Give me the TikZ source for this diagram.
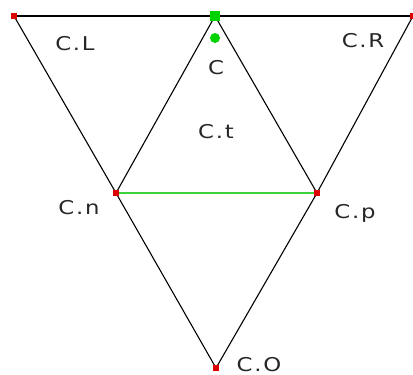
\documentclass[tikz,border=0pt]{standalone}
\usepackage{fontspec}
\setmainfont{DejaVu Sans}[FakeStretch=1.2,LetterSpace=9]
\definecolor{ptred}{RGB}{220,0,0}
\definecolor{ptgreen}{RGB}{0,210,0}
\definecolor{lgreen}{RGB}{60,210,60}
\begin{document}
\begin{tikzpicture}[x=1pt,y=-1pt,
  pt/.style={fill=ptred,draw=none,minimum size=6pt,inner sep=0pt,rectangle},
  lbl/.style={font=\fontsize{19}{21}\selectfont,text=black!85,inner sep=0pt,text height=13.5pt,text depth=0pt},
  edge/.style={draw=black,line width=1.1pt}]
\useasboundingbox (0,0) rectangle (413,375);
\node[pt] (L) at (14,16) {};
\node[pt] (R) at (413,16) {};
\node[pt] (n) at (116,193) {};
\node[pt] (p) at (317,193) {};
\node[pt] (O) at (216,368) {};
\coordinate (C) at (215,16);
\draw[edge] (L.center) -- (R.center);
\draw[edge] (L.center) -- (n.center) -- (O.center) -- (p.center) -- (R.center);
\draw[edge] (n.center) -- (C) -- (p.center);
\draw[lgreen,line width=1.4pt] (n.center) -- (p.center);
\foreach \a in {L,R,n,p,O}{\node[pt] at (\a) {};}
\node[fill=ptgreen,minimum size=10pt,inner sep=0pt] (Csq) at (C) {};
\node[circle,fill=ptgreen,minimum size=10pt,inner sep=0pt] (Cdot) at (215,38) {};
\node[lbl] (tL) at (75,44) {C.L};
\node[lbl] (tC) at (216,67.5) {C};
\node[lbl] (tR) at (363,41) {C.R};
\node[lbl] (tt) at (216,132) {C.t};
\node[lbl] (tn) at (79,208) {C.n};
\node[lbl] (tp) at (355,212) {C.p};
\node[lbl] (tO) at (259,365) {C.O};
\end{tikzpicture}
\end{document}
